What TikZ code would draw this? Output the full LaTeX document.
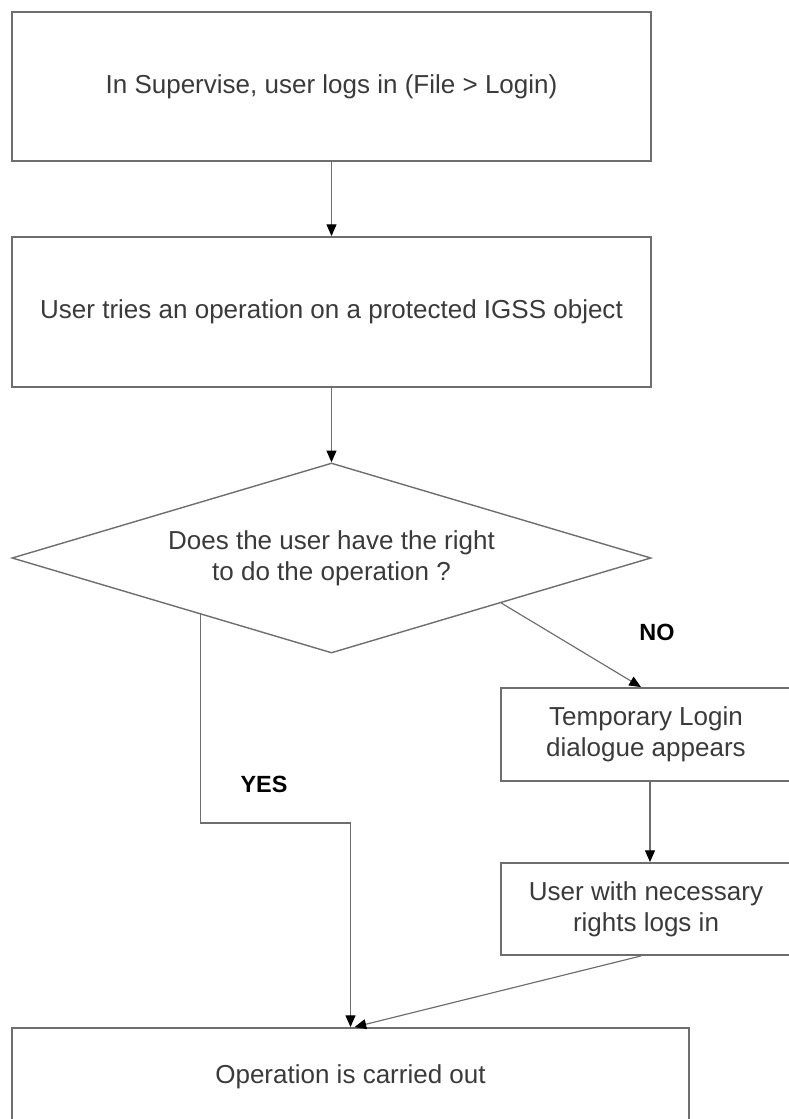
\documentclass[tikz,border=0pt]{standalone}
\usepackage{fontspec}
\setmainfont{Liberation Sans}
\usetikzlibrary{arrows.meta,shapes.geometric,calc}

\definecolor{edgegray}{HTML}{6E6E6E}
\definecolor{textgray}{HTML}{3A3A3A}

\tikzset{
  stepbox/.style={draw=edgegray, line width=1.6pt, inner sep=0pt, align=center,
    text=textgray, font=\fontsize{22.2}{26.5}\selectfont},
  decision/.style={diamond, draw=edgegray, line width=1.2pt, inner sep=0pt, aspect=3.36,
    align=center, text=textgray, font=\fontsize{22.2}{26.5}\selectfont},
  flow/.style={draw=edgegray, line width=1pt, -{Triangle[length=10pt,width=8.5pt,color=black]}},
  answer/.style={font=\bfseries\fontsize{20}{24}\selectfont}
}

\begin{document}
\begin{tikzpicture}[x=0.03cm, y=-0.03cm]
  % page frame, the last box runs off the bottom
  \useasboundingbox (0,0) rectangle (789,1119);
  \clip (0,0) rectangle (789,1119);

  % steps
  \node[stepbox, minimum width=19.17cm, minimum height=4.47cm] (login) at (331.5,86.5)
    {In Supervise, user logs in (File > Login)};
  \node[stepbox, minimum width=19.17cm, minimum height=4.5cm] (attempt) at (331.5,312)
    {User tries an operation on a protected IGSS object};
  \node[decision, minimum width=19.17cm, minimum height=5.7cm] (check) at (331.5,558)
    {Does the user have the right\\to do the operation ?};
  \node[stepbox, minimum width=8.7cm, minimum height=2.79cm] (temp) at (646,734.5)
    {Temporary Login\\dialogue appears};
  \node[stepbox, minimum width=8.7cm, minimum height=2.76cm] (rights) at (646,909)
    {User with necessary\\rights logs in};
  \node[stepbox, minimum width=20.31cm, minimum height=2.94cm] (done) at (350.5,1077)
    {Operation is carried out};

  % answers
  \node[answer] (yes) at (264,784) {YES};
  \node[answer] (no) at (657,632) {NO};

  % connectors
  \draw[flow] (login) -- (attempt);
  \draw[flow] (attempt) -- (check);
  \draw[flow] ($(check.west)!0.59!(check.south)$) |- ($(done.north)+(0,-204)$) -- (done.north);
  \draw[flow] ($(check.east)!0.47!(check.south)$) -- ($(temp.north)+(-5,0)$);
  \draw[flow] ($(temp.south)+(4,0)$) -- ($(rights.north)+(4,0)$);
  \draw[flow] ($(rights.south)+(-5,0)$) -- ($(done.north)+(4,0)$);
\end{tikzpicture}
\end{document}
